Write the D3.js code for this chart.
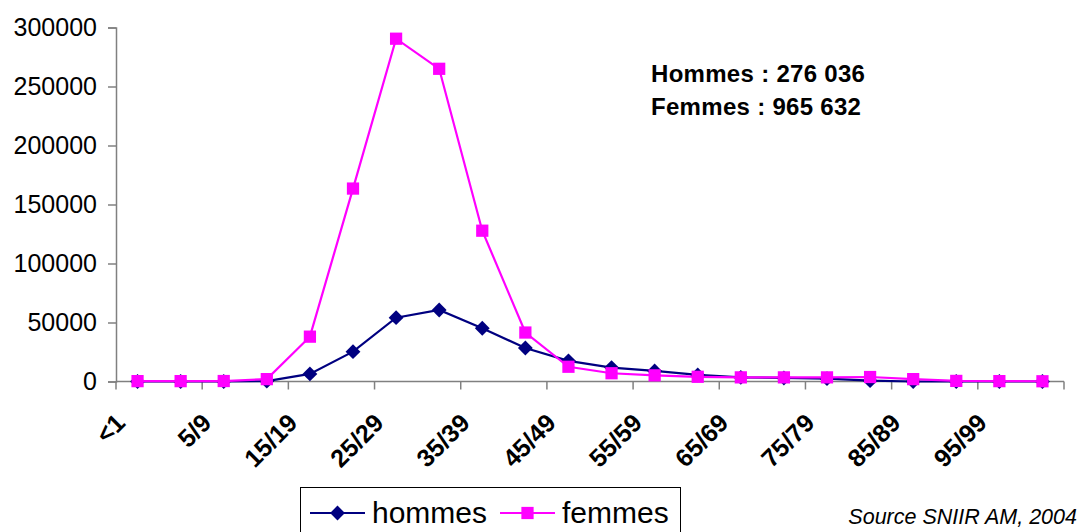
<!DOCTYPE html>
<html>
<head>
<meta charset="utf-8">
<script src="https://cdn.jsdelivr.net/npm/d3@7"></script>
<style>
  body { margin: 0; background: #fff; }
  svg { display: block; font-family: "Liberation Sans", Arial, sans-serif; }
</style>
</head>
<body>
<div id="chart"></div>
<script>
var categories = ['<1', '1/4', '5/9', '10/14', '15/19', '20/24', '25/29', '30/34', '35/39', '40/44', '45/49',
	'50/54', '55/59', '60/64', '65/69', '70/74', '75/79', '80/84', '85/89', '90/94', '95/99', '100+'];

var hommes = [0, 0, 0, 300, 6400, 25300, 54100, 60600, 45100, 28400, 17500,
	11800, 9000, 5600, 3500, 3000, 2400, 700, 0, 0, 0, 0];

var femmes = [300, 300, 400, 2000, 38000, 163500, 290500, 265000, 127800, 41500, 12500,
	7000, 5200, 4000, 3500, 3500, 3500, 3800, 2000, 500, 300, 200];

var yTicks = [0, 50000, 100000, 150000, 200000, 250000, 300000];
var labelEvery = 2;

var totals = ['Hommes : 276 036', 'Femmes : 965 632'];
var sourceText = 'Source SNIIR AM, 2004';

var width = 1080, height = 532;

var svg = d3.select('#chart').append('svg').attr('width', width).attr('height', height);

var xScale = d3.scaleBand()
	.domain(categories)
	.range([116, 1064])
	.padding(0);

var yScale = d3.scaleLinear()
	.domain([0, 300000])
	.range([381.5, 27.5]);

function cx(d, i) { return xScale(categories[i]) + xScale.bandwidth() / 2; }

// y axis
var yAxis = d3.axisLeft(yScale)
	.tickValues(yTicks)
	.tickFormat(d3.format('d'))
	.tickSize(8)
	.tickPadding(11);

var yG = svg.append('g')
	.attr('transform', 'translate(116,0)')
	.call(yAxis);
yG.selectAll('path, line').attr('stroke', '#808080').attr('stroke-width', 1.5);
yG.selectAll('text').attr('font-size', 25).attr('fill', '#000')
	.attr('font-family', '"Liberation Sans", Arial, sans-serif');

// x axis (domain line only, ticks at every other category boundary)
var xG = svg.append('g')
	.attr('transform', 'translate(0,381.5)');
xG.append('line')
	.attr('x1', 116).attr('x2', 1064)
	.attr('stroke', '#808080').attr('stroke-width', 1.5);

var tickPos = categories.filter(function(c, i) { return i % labelEvery === 0; })
	.map(function(c) { return xScale(c); });
tickPos.push(xScale.range()[1]);

xG.selectAll('line.tick')
	.data(tickPos)
	.enter()
	.append('line')
	.attr('class', 'tick')
	.attr('x1', function(d) { return d; })
	.attr('x2', function(d) { return d; })
	.attr('y1', 0).attr('y2', 8)
	.attr('stroke', '#808080').attr('stroke-width', 1.5);

xG.selectAll('text')
	.data(categories.filter(function(c, i) { return i % labelEvery === 0; }))
	.enter()
	.append('text')
	.attr('transform', function(d) {
		return 'translate(' + (xScale(d) + xScale.bandwidth() / 2 - 11) + ',' + 43 + ') rotate(-45)';
	})
	.attr('text-anchor', 'end')
	.attr('font-size', 25)
	.attr('font-weight', 'bold')
	.text(function(d) { return d; });

// series
var series = [
	{ name: 'hommes', values: hommes, color: '#000080', symbol: 'diamond' },
	{ name: 'femmes', values: femmes, color: '#FF00FF', symbol: 'square' }
];

var line = d3.line()
	.x(cx)
	.y(function(d) { return yScale(d); });

function marker(sel, s) {
	if (s.symbol === 'diamond') {
		sel.append('path')
			.attr('d', d3.symbol().type(d3.symbolSquare).size(110))
			.attr('transform', function(d, i) { return 'translate(' + cx(d, i) + ',' + yScale(d) + ') rotate(45)'; })
			.attr('fill', s.color);
	} else {
		sel.append('path')
			.attr('d', d3.symbol().type(d3.symbolSquare).size(150))
			.attr('transform', function(d, i) { return 'translate(' + cx(d, i) + ',' + yScale(d) + ')'; })
			.attr('fill', s.color);
	}
}

series.forEach(function(s) {
	svg.append('path')
		.attr('d', line(s.values))
		.attr('fill', 'none')
		.attr('stroke', s.color)
		.attr('stroke-width', 2.2);

	var g = svg.append('g');
	marker(g.selectAll('path').data(s.values).enter(), s);
});

// totals annotation
svg.append('g')
	.selectAll('text')
	.data(totals)
	.enter()
	.append('text')
	.attr('x', 651)
	.attr('y', function(d, i) { return 82 + i * 33; })
	.attr('font-size', 24)
	.attr('font-weight', 'bold')
	.attr('letter-spacing', 0.3)
	.text(function(d) { return d; });

// legend
var legend = svg.append('g');
legend.append('rect')
	.attr('x', 300.5).attr('y', 487.5)
	.attr('width', 380).attr('height', 60)
	.attr('fill', '#fff').attr('stroke', '#000').attr('stroke-width', 1);

var legendX = [310, 500];
series.forEach(function(s, i) {
	var x0 = legendX[i];
	legend.append('line')
		.attr('x1', x0).attr('x2', x0 + 55)
		.attr('y1', 513).attr('y2', 513)
		.attr('stroke', s.color).attr('stroke-width', 2.2);
	var m = legend.append('g');
	marker(m.selectAll('path').data([0]).enter().append('g')
		.attr('transform', 'translate(' + (x0 + 27.5 - cx(0, 0)) + ',' + (513 - yScale(0)) + ')'), s);
	legend.append('text')
		.attr('x', x0 + 62)
		.attr('y', 523)
		.attr('font-size', 30)
		.text(s.name);
});

svg.append('text')
	.attr('x', 1077)
	.attr('y', 524)
	.attr('text-anchor', 'end')
	.attr('font-size', 21.5)
	.attr('font-style', 'italic')
	.text(sourceText);
</script>
</body>
</html>
